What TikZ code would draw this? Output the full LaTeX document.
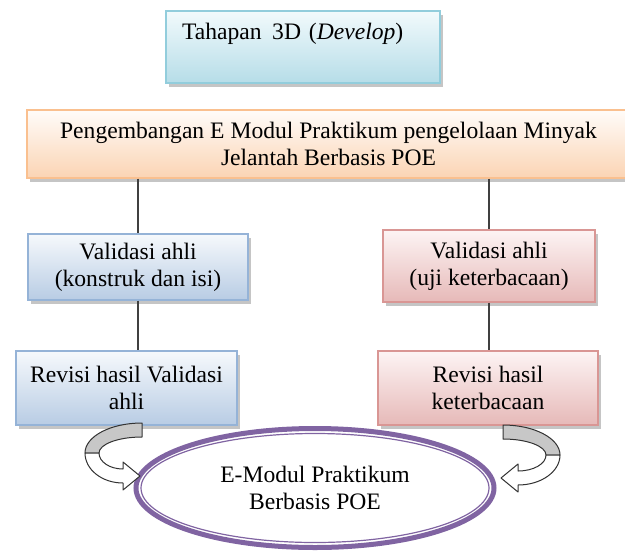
\documentclass[tikz,border=0pt]{standalone}
\usepackage{fontspec}
\setmainfont{Liberation Serif}
\usetikzlibrary{shapes.geometric, shadows, calc}
\definecolor{biruGaris}{HTML}{92CDDC}
\definecolor{biruAtas}{HTML}{F2FAFC}
\definecolor{biruBawah}{HTML}{B6DDE8}
\definecolor{oranyeGaris}{HTML}{FAC08F}
\definecolor{oranyeAtas}{HTML}{FFFCF9}
\definecolor{oranyeBawah}{HTML}{FBD4B4}
\definecolor{biruMGaris}{HTML}{95B3D7}
\definecolor{biruMAtas}{HTML}{F6F9FC}
\definecolor{biruMBawah}{HTML}{B8CCE4}
\definecolor{merahGaris}{HTML}{D99694}
\definecolor{merahAtas}{HTML}{FDF4F4}
\definecolor{merahBawah}{HTML}{E6B9B8}
\definecolor{ungu}{HTML}{8064A2}

\begin{document}
\begin{tikzpicture}[x=0.5pt, y=-0.5pt,
        kotak/.style={rectangle, align=center, font=\fontsize{11.8}{13.5}\selectfont, line width=0.6pt,
            drop shadow={shadow xshift=1.5pt, shadow yshift=-1.8pt, fill=black!45, opacity=0.5}},
        biru/.style={kotak, draw=biruMGaris, top color=biruMAtas, bottom color=biruMBawah},
        merah/.style={kotak, draw=merahGaris, top color=merahAtas, bottom color=merahBawah},
        garis/.style={line width=0.6pt, draw=black!75},
        panah/.style={draw=black!80, line width=0.5pt, line join=round}]
        \useasboundingbox (0,0) rectangle (625,551);

        %kotak tahapan
        \node[kotak, draw=biruGaris, top color=biruAtas, bottom color=biruBawah, align=left,
            text width=121pt, inner xsep=8pt, inner ysep=5.5pt, text height=9pt, text depth=16pt] (tahap) at (303,47) {Tahapan\hspace{0.45em}3D (\textit{Develop})};

        %kotak pengembangan
        \node[kotak, draw=oranyeGaris, top color=oranyeAtas, bottom color=oranyeBawah, minimum width=301.5pt, minimum height=34pt] (kembang) at (328.5,144)
            {Pengembangan E Modul Praktikum pengelolaan Minyak\\Jelantah Berbasis POE};

        %validasi ahli
        \node[biru, minimum width=110pt, minimum height=33pt] (valA) at (138,267) {Validasi ahli\\(konstruk dan isi)};
        \node[merah, minimum width=106pt, minimum height=36pt] (valB) at (489,266) {Validasi ahli\\(uji keterbacaan)};

        %revisi
        \node[biru, minimum width=110.5pt, minimum height=37pt] (revA) at (126.5,388) {Revisi hasil Validasi\\ahli};
        \node[merah, minimum width=110pt, minimum height=37pt] (revB) at (488,388) {Revisi hasil\\keterbacaan};

        %e-modul
        \node[ellipse, draw=ungu, line width=2.5pt, minimum width=179pt, minimum height=59.5pt, align=center,
            font=\fontsize{11.8}{13.5}\selectfont] (modul) at (315,488) {E-Modul Praktikum\\Berbasis POE};
        \draw[ungu, line width=0.6pt] (modul.center) ellipse [x radius=174, y radius=54.5];

        %garis penghubung
        \draw[garis] (valA.north |- kembang.south) -- (valA.north);
        \draw[garis] (valB.north |- kembang.south) -- (valB.north);
        \draw[garis] (valA.south) -- (valA.south |- revA.north);
        \draw[garis] (valB.south) -- (valB.south |- revB.north);

        %panah lengkung kiri
        \filldraw[panah, fill=black!22] (142,423) arc[start angle=270, end angle=180, x radius=57, y radius=30]
            -- (99,453) arc[start angle=180, end angle=270, x radius=43, y radius=16] -- cycle;
        \filldraw[panah, fill=white] (85,453) arc[start angle=180, end angle=90, x radius=38, y radius=30]
            -- (123,490) -- (140,476) -- (123,462) -- (123,469)
            arc[start angle=90, end angle=180, x radius=24, y radius=16] -- cycle;

        %panah lengkung kanan
        \filldraw[panah, fill=black!22] (503,425) arc[start angle=270, end angle=360, x radius=57, y radius=30]
            -- (546,455) arc[start angle=0, end angle=-90, x radius=43, y radius=16] -- cycle;
        \filldraw[panah, fill=white] (560,455) arc[start angle=0, end angle=90, x radius=42, y radius=30]
            -- (518,492) -- (501,478) -- (518,464) -- (518,471)
            arc[start angle=90, end angle=0, x radius=28, y radius=16] -- cycle;
\end{tikzpicture}
\end{document}
